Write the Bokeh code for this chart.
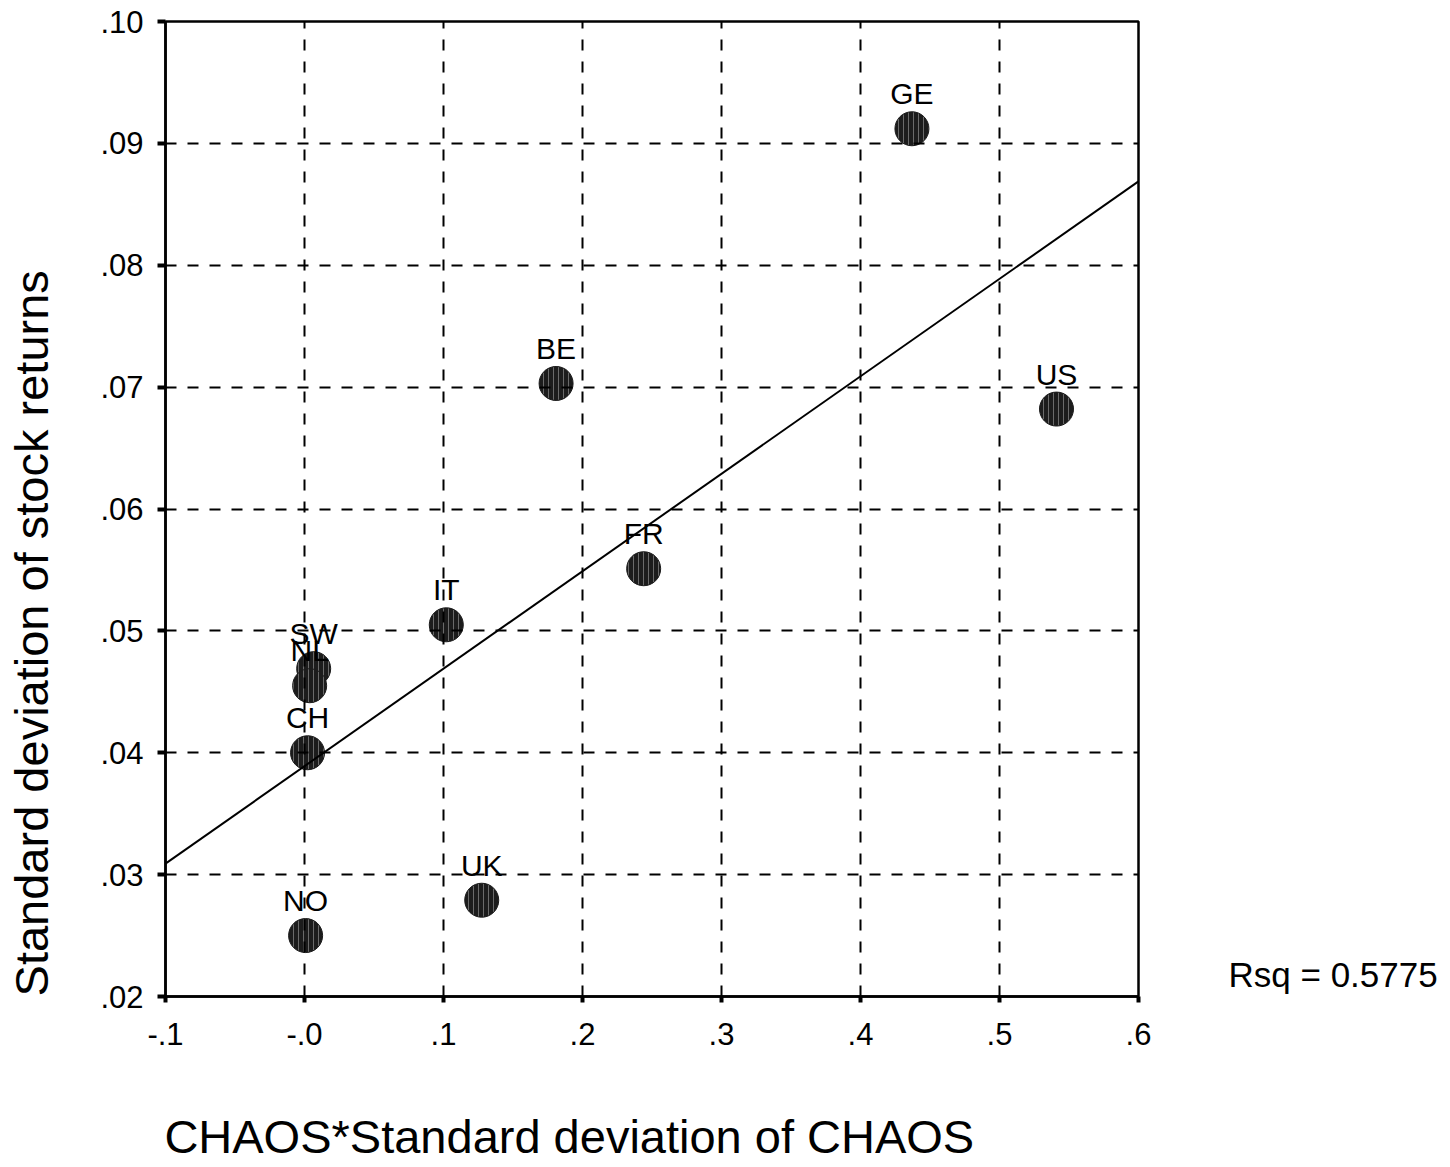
import numpy as np
from bokeh.plotting import figure
from bokeh.models import (ColumnDataSource, FixedTicker, CustomJSTickFormatter, LinearAxis)
from bokeh.core.properties import value
from bokeh.embed import file_html
from bokeh.resources import INLINE

# ---- data ----
countries = ["GE", "BE", "US", "FR", "IT", "SW", "NL", "CH", "UK", "NO"]
chaos_sd = [0.437, 0.181, 0.541, 0.244, 0.102, 0.0066, 0.0037, 0.0022, 0.1275, 0.0008]
stock_sd = [0.0912, 0.0703, 0.0682, 0.0551, 0.0505, 0.0469, 0.0455, 0.0400, 0.0279, 0.0250]
x_ticks = [-0.1, 0.0, 0.1, 0.2, 0.3, 0.4, 0.5, 0.6]
x_tick_labels = ["-.1", "-.0", ".1", ".2", ".3", ".4", ".5", ".6"]
y_ticks = [0.02, 0.03, 0.04, 0.05, 0.06, 0.07, 0.08, 0.09, 0.10]
y_tick_labels = [".02", ".03", ".04", ".05", ".06", ".07", ".08", ".09", ".10"]
rsq_text = "Rsq = 0.5775"
x_title = "CHAOS*Standard deviation of CHAOS"
y_title = "Standard deviation of stock returns"

FONT = "Liberation Sans"

p = figure(output_backend="svg", toolbar_location=None,
           frame_width=973, frame_height=975,
           min_border_left=165, min_border_top=21,
           min_border_right=310, min_border_bottom=170,
           x_range=(-0.1, 0.6), y_range=(0.02, 0.10))
p.background_fill_color = "white"
p.border_fill_color = "white"
p.outline_line_color = "black"
p.outline_line_width = 2.5

src = ColumnDataSource(dict(x=chaos_sd, y=stock_sd, name=countries))

p.scatter("x", "y", source=src, marker="circle", size=34,
          fill_color="#1c1c1c", line_color="#1c1c1c", line_width=1,
          hatch_pattern="vertical_line", hatch_color="#6a6a6a",
          hatch_scale=5, hatch_weight=1)

p.text("x", "y", text="name", source=src, y_offset=-35,
       text_align="center", text_baseline="alphabetic",
       text_font=value(FONT), text_font_size="30px", text_color="black")

# regression line
slope, intercept = np.polyfit(chaos_sd, stock_sd, 1)
xl = np.array([-0.1, 0.6])
line = p.line(xl, intercept + slope * xl, line_color="black", line_width=2)
line.level = "overlay"


def label_formatter(tvals, labels):
    return CustomJSTickFormatter(args=dict(labs=labels, tv=tvals), code="""
        let best = 0, bd = 1e9;
        for (let i = 0; i < tv.length; i++) {
          const d = Math.abs(tv[i] - tick);
          if (d < bd) { bd = d; best = i; }
        }
        return labs[best];
        """)


# main axes
for ax, tvals, labels in ((p.xaxis[0], x_ticks, x_tick_labels),
                          (p.yaxis[0], y_ticks, y_tick_labels)):
    ax.ticker = FixedTicker(ticks=tvals)
    ax.formatter = label_formatter(tvals, labels)
    ax.minor_tick_line_color = None
    ax.axis_line_color = "black"
    ax.axis_line_width = 2.5
    ax.major_tick_line_color = "black"
    ax.major_tick_line_width = 4
    ax.major_tick_in = 0
    ax.major_label_text_font = FONT
    ax.major_label_text_font_size = "31px"
    ax.major_label_text_color = "black"

p.xaxis.major_tick_out = 6
p.xaxis.major_label_standoff = 20
p.yaxis.major_tick_out = 8
p.yaxis.major_label_standoff = 14

for g in (p.xgrid[0], p.ygrid[0]):
    g.grid_line_color = "black"
    g.grid_line_width = 2
    g.grid_line_dash = "11 11"
    g.level = "overlay"


# text-only axes used to place the titles and the Rsq note outside the frame
def text_axis(pos_value, text, size, standoff, orientation="horizontal"):
    ax = LinearAxis(ticker=FixedTicker(ticks=[pos_value]),
                    formatter=label_formatter([pos_value], [text]))
    ax.axis_line_color = None
    ax.major_tick_line_color = None
    ax.minor_tick_line_color = None
    ax.major_tick_in = 0
    ax.major_tick_out = 0
    ax.major_label_standoff = standoff
    ax.major_label_text_font = FONT
    ax.major_label_text_font_size = size
    ax.major_label_text_color = "black"
    ax.major_label_orientation = orientation
    return ax


x_title_pos = 0.1905   # centre of the x title, in x data units
y_title_pos = 0.0498   # centre of the y title, in y data units
rsq_pos = 0.0218       # vertical centre of the Rsq note, in y data units

p.add_layout(text_axis(x_title_pos, x_title, "47px", 62), "below")
p.add_layout(text_axis(y_title_pos, y_title, "47px", 40, "vertical"), "left")
p.add_layout(text_axis(rsq_pos, rsq_text, "35px", 90), "right")

open("out.html", "w").write(file_html(p, INLINE))
